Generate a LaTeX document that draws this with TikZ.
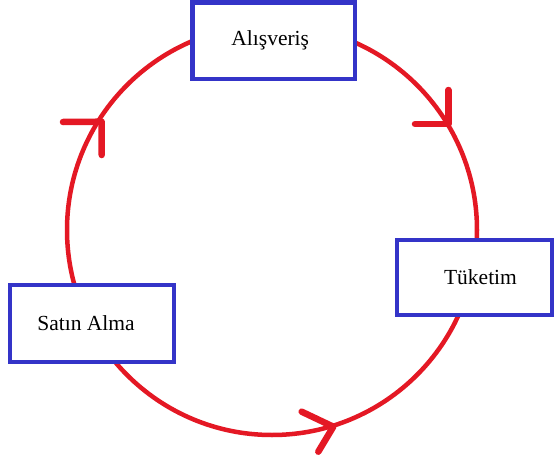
\documentclass[tikz,border=0pt]{standalone}
\usepackage{fontspec}
\setmainfont{Liberation Serif}
\definecolor{ringred}{RGB}{228,24,36}
\definecolor{boxblue}{RGB}{52,52,200}
\begin{document}
\begin{tikzpicture}[x=1pt,y=-1pt,
  stagebox/.style={draw=boxblue, line width=4.8pt, fill=white, rectangle,
    inner sep=0pt, font=\fontsize{21.5}{24}\selectfont},
  ring/.style={draw=ringred, line width=4.5pt},
  tipmark/.style={draw=ringred, line width=6.5pt, line cap=round, line join=round}]
  \useasboundingbox (0,0) rectangle (555,458);
  \fill[white] (0,0) rectangle (555,458);

  % the cycle
  \coordinate (centre) at (272,230);
  \draw[ring] (centre) circle [radius=205];

  % direction marks on the ring
  \coordinate (t1) at (101.7,121.7);
  \coordinate (t1a) at (63,122);
  \coordinate (t1b) at (101.7,155);
  \draw[tipmark] (t1a) -- (t1) -- (t1b);

  \coordinate (t2) at (448.3,124);
  \coordinate (t2a) at (448.3,90);
  \coordinate (t2b) at (415,124);
  \draw[tipmark] (t2a) -- (t2) -- (t2b);

  \coordinate (t3) at (333.3,426.7);
  \coordinate (t3a) at (301.7,411.7);
  \coordinate (t3b) at (318.3,451.7);
  \draw[tipmark] (t3a) -- (t3) -- (t3b);

  % stages
  \node[stagebox, minimum width=162.5pt, minimum height=76.5pt] (alis) at (273.75,40.75) {\hspace*{-7pt}Alışveriş};
  \node[stagebox, minimum width=155pt, minimum height=75pt] (tuk) at (474.5,277.5) {\hspace*{12pt}Tüketim};
  \node[stagebox, minimum width=164pt, minimum height=77pt] (satin) at (92,323.5) {Satın Alma\hspace*{12pt}};
\end{tikzpicture}
\end{document}
